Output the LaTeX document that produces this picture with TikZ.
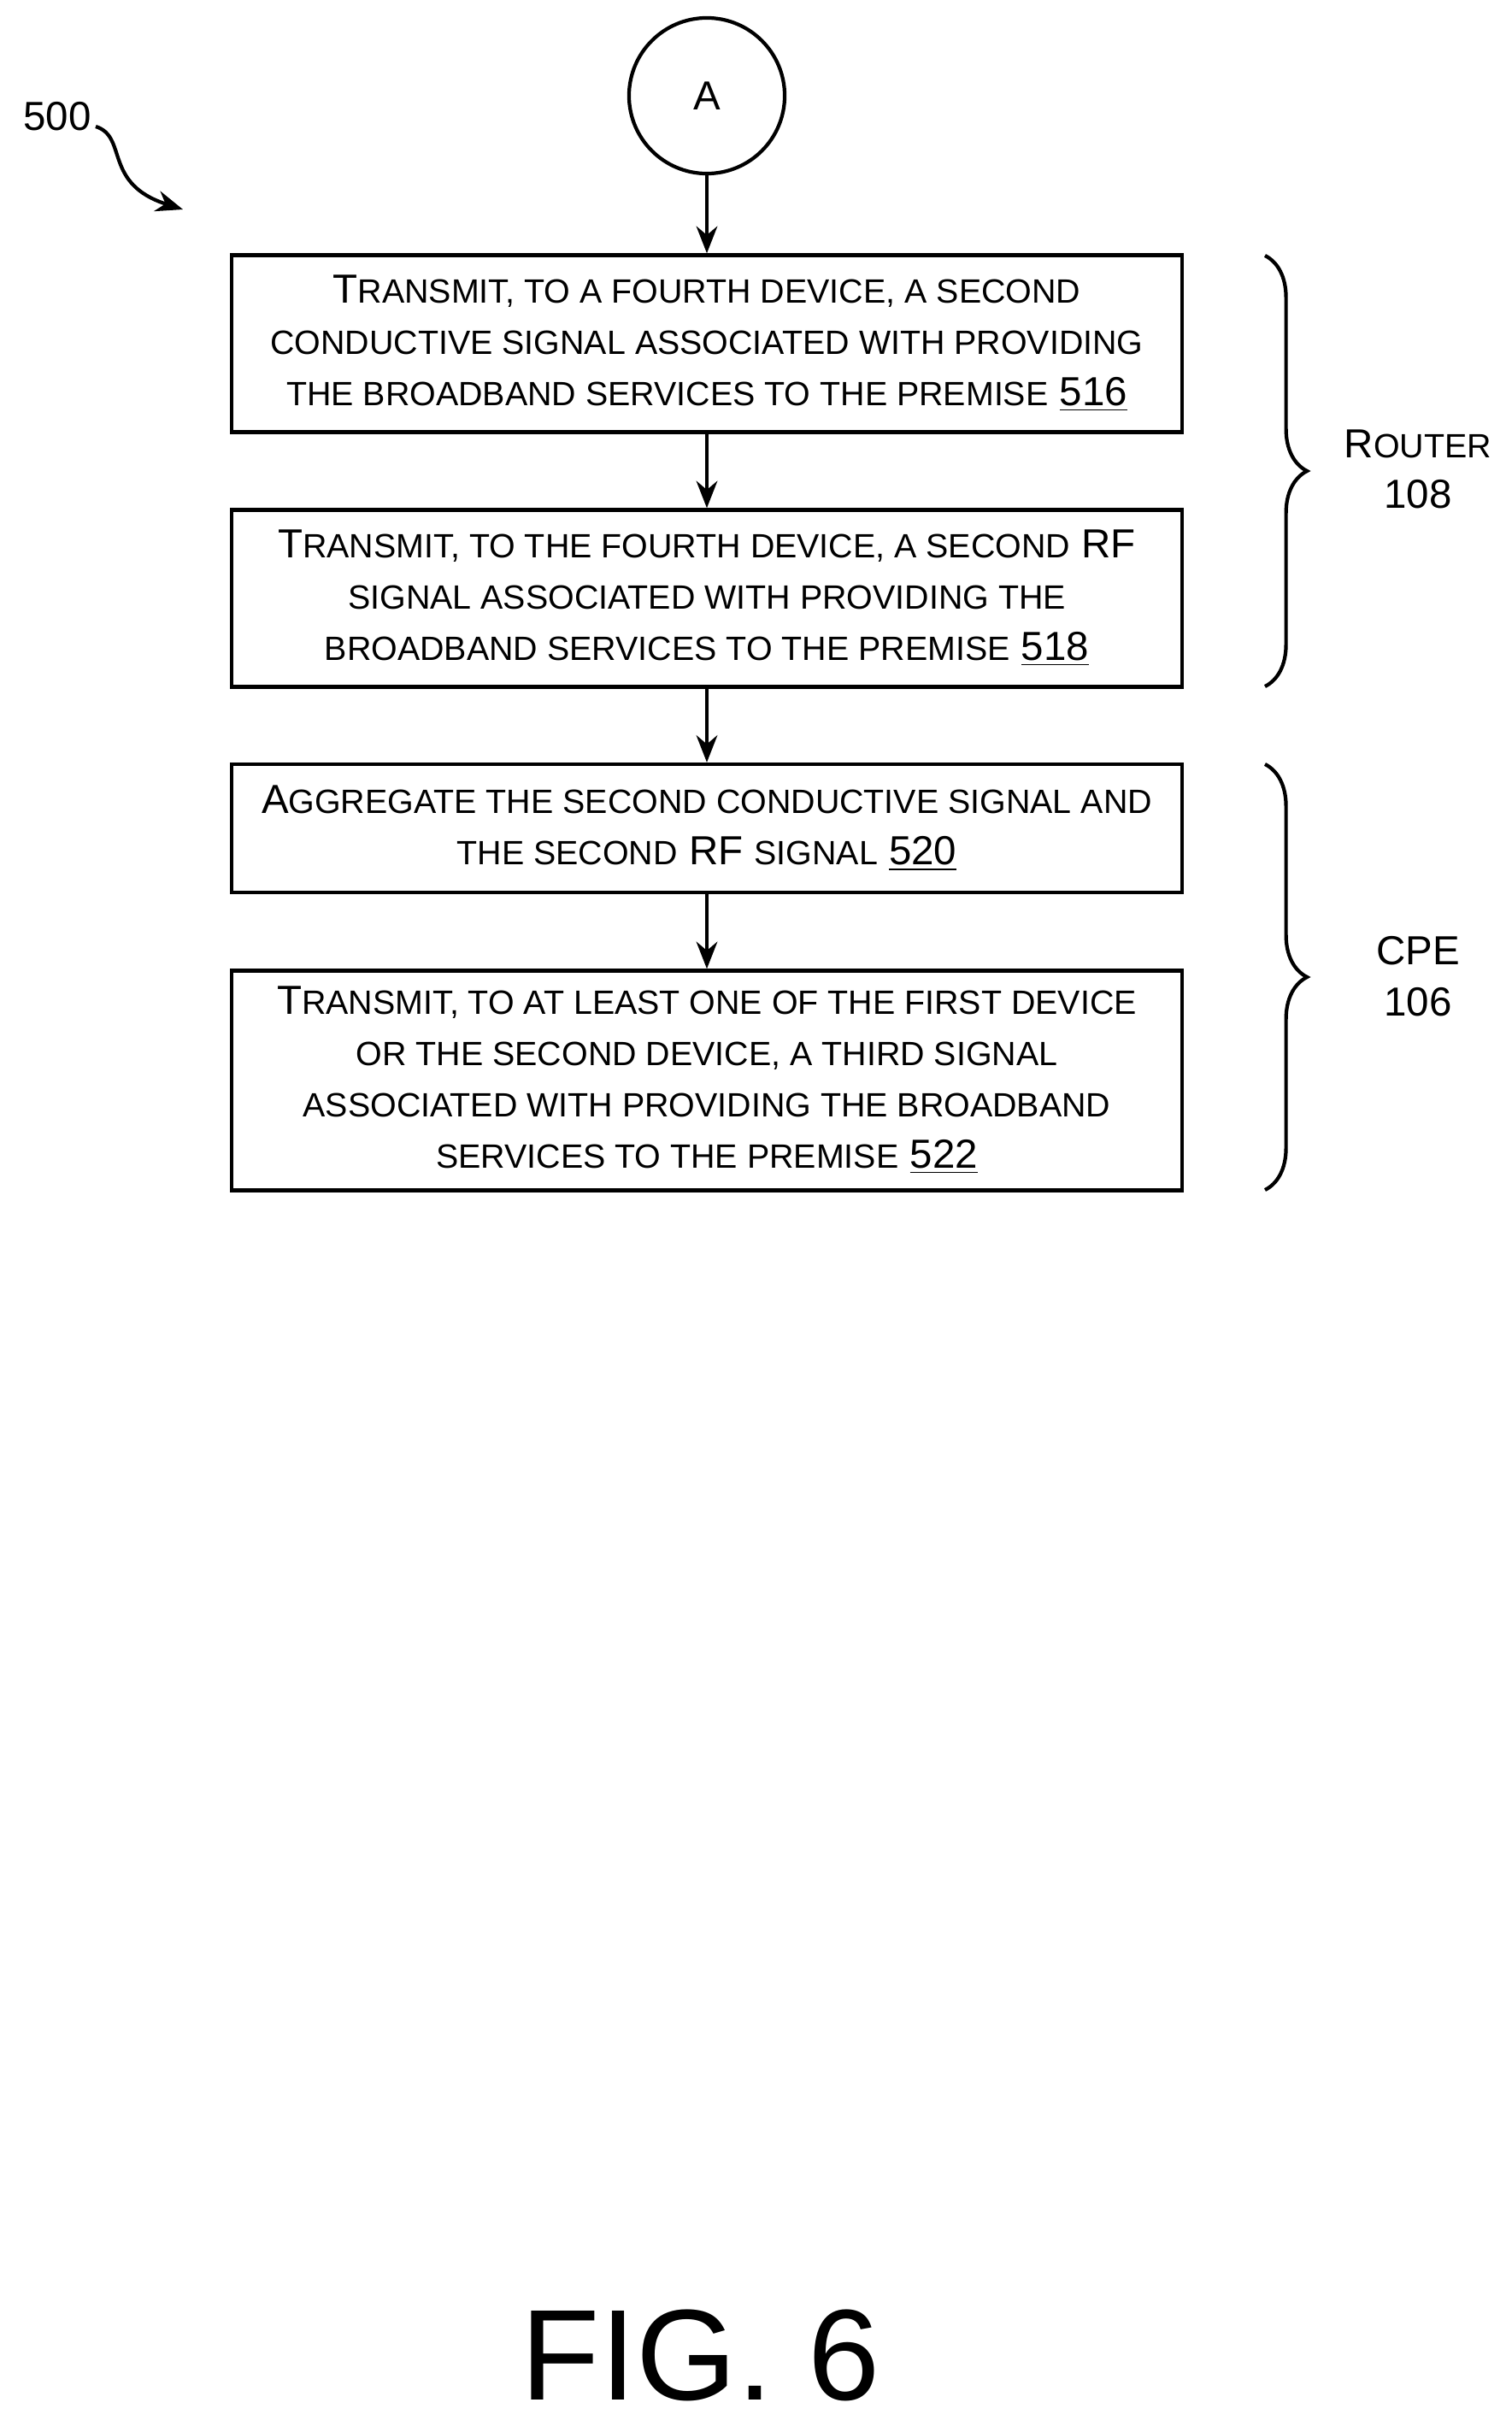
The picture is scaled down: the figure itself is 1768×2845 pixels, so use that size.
\documentclass[tikz,border=0pt]{standalone}
\usepackage{fontspec}
\setmainfont{Liberation Sans}
\usetikzlibrary{decorations.pathreplacing,arrows.meta}
\newcommand\lc[1]{{\fontsize{11.2}{17}\selectfont\MakeUppercase{#1}}}
\newcommand\ul[1]{\underline{#1}}
\begin{document}
\begin{tikzpicture}[x=0.01cm,y=-0.01cm,
  box/.style={draw,line width=1.2pt,minimum width=11.11cm,align=center,font=\fontsize{13.5}{17}\selectfont,inner sep=0pt},
  arr/.style={-{Stealth[length=9pt,width=7pt]},line width=1.2pt},
  br/.style={decorate,decoration={brace,amplitude=14pt},line width=1.2pt},
  lab/.style={align=center,font=\fontsize{13.5}{17}\selectfont}]
\useasboundingbox (0,0) rectangle (1768,2845);
\node[draw,circle,line width=1.2pt,minimum size=1.82cm,font=\fontsize{13.5}{15}\selectfont] (A) at (827,112) {A};
\node[box,minimum height=2.07cm] (b1) at (827,402) {T\lc{ransmit, to a fourth device, a second}\\\lc{conductive signal associated with providing}\\\lc{the broadband services to the premise} \ul{516}};
\node[box,minimum height=2.07cm] (b2) at (827,700) {T\lc{ransmit, to the fourth device, a second} RF\\\lc{signal associated with providing the}\\\lc{broadband services to the premise} \ul{518}};
\node[box,minimum height=1.5cm] (b3) at (827,969) {A\lc{ggregate the second conductive signal and}\\\lc{the second} RF \lc{signal} \ul{520}};
\node[box,minimum height=2.57cm] (b4) at (827,1264) {T\lc{ransmit, to at least one of the first device}\\\lc{or the second device, a third signal}\\\lc{associated with providing the broadband}\\\lc{services to the premise} \ul{522}};
\draw[arr] (A) -- (b1);
\draw[arr] (b1) -- (b2);
\draw[arr] (b2) -- (b3);
\draw[arr] (b3) -- (b4);
\coordinate (r1) at (1480,299); \coordinate (r2) at (1480,803);
\coordinate (c1) at (1480,894); \coordinate (c2) at (1480,1392);
\draw[br] (r1) -- (r2);
\draw[br] (c1) -- (c2);
\node[lab] (rl) at (1659,549) {R\lc{outer}\\108};
\node[lab] (cl) at (1659,1142) {CPE\\106};
\node[lab,anchor=west] (n500) at (15,136) {500};
\coordinate (s1) at (112,148);
\coordinate (s2) at (214,245);
\draw[arr] (s1) .. controls (150,160) and (120,215) .. (s2);
\node[font=\fontsize{43}{48}\selectfont] (fig) at (820,2755) {FIG. 6};
\end{tikzpicture}
\end{document}
